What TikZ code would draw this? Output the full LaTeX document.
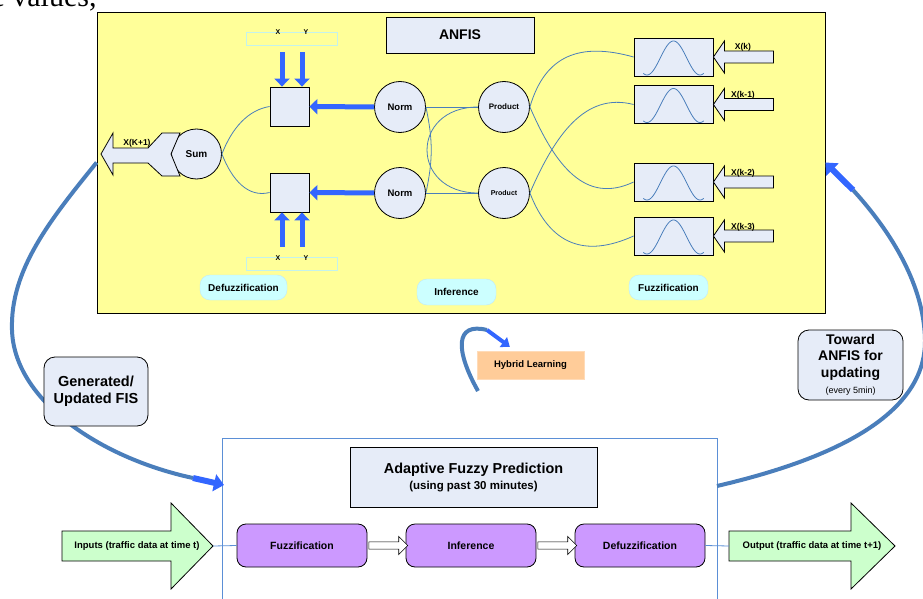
\documentclass[tikz,border=0pt]{standalone}
\usepackage{fontspec}
\setmainfont{Liberation Sans}
\newfontfamily\bodyserif{Liberation Serif}
\usetikzlibrary{arrows.meta,shapes.arrows}

\definecolor{anfisyellow}{HTML}{FFFF99}
\definecolor{cellfill}{HTML}{E6ECF8}
\definecolor{linkblue}{HTML}{4A7EBB}
\definecolor{arrowblue}{HTML}{3366FF}
\definecolor{bubblecyan}{HTML}{CCFFFF}
\definecolor{hybridorange}{HTML}{FFCC99}
\definecolor{stagepurple}{HTML}{CC99FF}
\definecolor{flowgreen}{HTML}{CCFFCC}
\definecolor{framecol}{HTML}{5B8FD6}
\definecolor{barcyan}{HTML}{C4F2EC}

\newcommand{\fsz}[2]{\fontsize{#1pt}{#2pt}\selectfont\bfseries}

\tikzset{
  cell/.style={draw, fill=cellfill, line width=0.8pt},
  neuron/.style={cell, circle, minimum size=51pt, inner sep=0pt},
  mfbox/.style={cell, minimum width=79pt, minimum height=38pt, inner sep=0pt},
  sqbox/.style={cell, minimum size=39pt, inner sep=0pt},
  link/.style={draw=linkblue, line width=0.8pt},
  thickarrow/.style={draw=arrowblue, line width=5pt, -{Triangle[width=15pt,length=8pt]}},
  loopline/.style={draw=linkblue, line width=4pt},
  looparrow/.style={draw=arrowblue, line width=6pt, -{Triangle[width=17pt,length=10pt]}},
  bubble/.style={rounded corners=10pt, fill=bubblecyan, draw=cyan!25, font=\fsz{10}{12}},
  xybar/.style={draw=barcyan, minimum width=91pt, minimum height=13pt, inner sep=0pt},
  stage/.style={draw, fill=stagepurple, rounded corners=9pt, line width=0.8pt,
    minimum width=130pt, minimum height=43pt, font=\fsz{10.5}{12}},
  note/.style={draw, fill=cellfill, rounded corners=11pt, align=center, inner sep=2pt, line width=0.8pt},
  flow/.style={draw, fill=flowgreen, line width=0.8pt},
  hollow/.style={single arrow, draw, fill=white, line width=0.6pt, minimum height=39pt,
    inner sep=3.3pt, single arrow head extend=5.5pt}
}

\begin{document}
\begin{tikzpicture}[x=1pt, y=-1pt]
  \useasboundingbox (0,0) rectangle (923,599);
  \node[anchor=base west, inner sep=0pt, font=\bodyserif\fontsize{30pt}{30pt}\selectfont] (cut) at (-17,7) {le values,};

  \node[draw, fill=anfisyellow, line width=0.8pt, minimum width=728pt, minimum height=301pt] (anfis) at (461,162.5) {};
  \node[cell, minimum width=148pt, minimum height=36pt, font=\fsz{14}{16}] (title) at (460,35) {ANFIS};

  \node[sqbox] (sq1) at (289.5,106.5) {};
  \node[sqbox] (sq2) at (289.5,192.5) {};
  \node[xybar] (xy1) at (291.5,38.5) {};
  \node[xybar] (xy2) at (291.5,263.5) {};
  \node[font=\fsz{7}{8}] (xa) at (278,32) {X};
  \node[font=\fsz{7}{8}] (ya) at (306,32) {Y};
  \node[font=\fsz{7}{8}] (xb) at (278,258) {X};
  \node[font=\fsz{7}{8}] (yb) at (306,258) {Y};
  \foreach \dx in {-7.5,12.5} {
    \draw[thickarrow] ([xshift=\dx pt]sq1.north |- xy1.south) ++(0,7) -- ([xshift=\dx pt]sq1.north);
    \draw[thickarrow] ([xshift=\dx pt]sq2.south |- xy2.north) ++(0,-10) -- ([xshift=\dx pt]sq2.south);
  }

  \node[neuron, font=\fsz{9.5}{11}] (n1) at (400,107) {Norm};
  \node[neuron, font=\fsz{9.5}{11}] (n2) at (400,193) {Norm};
  \node[neuron, font=\fsz{8}{9}] (p1) at (504,107) {Product};
  \node[neuron, font=\fsz{7}{8}] (p2) at (504,193) {Product};
  \node[neuron, minimum size=50pt, font=\fsz{10}{11}] (sum) at (196.5,154) {Sum};
  \draw[cell] (101,154) -- ++(12,-21) -- ++(0,15) -- ++(35,0) -- ++(14,-15) -- ++(18,0)
    -- ++(-9,21) -- ++(9,22) -- ++(-18,0) -- ++(-14,-13) -- ++(-35,0) -- ++(0,12) -- cycle;
  \node[anchor=base, font=\fsz{8.5}{9}] (kout) at (137,146) {X(K+1)};

  \foreach \y/\lab [count=\i] in {57/X(k), 104.5/X(k-1), 182/X(k-2), 236/X(k-3)} {
    \node[mfbox] (mf\i) at (673.5,\y) {};
    \draw[link] plot[domain=-205:205, samples=61, smooth] ({673.5+\x*26.5/180},{\y+18-17*(1+cos(\x))});
    \draw[cell] (mf\i.east) -- ++(11,-16) -- ++(0,10) -- ++(49,0) -- ++(0,12) -- ++(-49,0) -- ++(0,10) -- cycle;
    \node[anchor=base, font=\fsz{8.5}{9}] (in\i) at (743,\y-7) {\lab};
  }

  \draw[link] (sum.east) .. controls (232,128) and (248,110) .. (sq1.west);
  \draw[link] (sum.east) .. controls (232,180) and (248,198) .. (sq2.west);
  \draw[thickarrow] (n1) -- (sq1);
  \draw[thickarrow] (n2) -- (sq2);
  \begin{scope}[link]
    \draw (n1.east) -- (p1.west);
    \draw (n2.east) -- (p2.west);
    \draw (n1.east) .. controls (433,140) and (433,160) .. (n2.east);
    \draw (p1.west) .. controls (410,107) and (410,193) .. (p2.west);
    \draw (p1.east) .. controls (545,55) and (580,42) .. (mf1.west);
    \draw (p1.east) .. controls (555,165) and (585,205) .. (mf3.west);
    \draw (p2.east) .. controls (555,135) and (585,92) .. (mf2.west);
    \draw (p2.east) .. controls (550,245) and (585,258) .. (mf4.west);
  \end{scope}

  \node[bubble, minimum width=87pt, minimum height=25pt] (defz) at (243.5,287.5) {Defuzzification};
  \node[bubble, minimum width=79pt, minimum height=26pt] (infr) at (456.5,292) {Inference};
  \node[bubble, minimum width=79pt, minimum height=25pt] (fuzz) at (668.5,287.5) {Fuzzification};

  \node[fill=hybridorange, draw=hybridorange!70!white, minimum width=107pt, minimum height=28pt,
    font=\fsz{9.5}{11}] (hyb) at (530.5,365) {Hybrid Learning};
  \coordinate (hs) at (478,391);
  \coordinate (hm) at (487,330);
  \draw[loopline] (hs) .. controls (455,350) and (455,322) .. (hm);
  \draw[draw=arrowblue, line width=4pt, -{Triangle[width=12pt,length=8pt]}] (hm) -- ([xshift=33pt,yshift=4pt]hyb.north west);

  \node[draw=framecol, fill=white, line width=0.8pt, minimum width=495pt, minimum height=180pt] (adapt) at (469.5,528) {};
  \node[cell, minimum width=247pt, minimum height=60pt, align=center, font=\fsz{14.4}{16}] (pred) at (473.5,477)
    {Adaptive Fuzzy Prediction\\{\fsz{11.5}{13}(using past 30 minutes)}};
  \node[stage] (sfz) at (302,545.5) {Fuzzification};
  \node[stage] (sinf) at (471,545.5) {Inference};
  \node[stage] (sdfz) at (640,545.5) {Defuzzification};
  \path (sfz) -- (sinf) node[midway, hollow] (h1) {};
  \path (sinf) -- (sdfz) node[midway, hollow] (h2) {};

  \draw[flow] (62,531) -- (171,531) -- (171,503) -- (213,546) -- (171,589) -- (171,561) -- (62,561) -- cycle;
  \coordinate (intip) at (213,546);
  \node[font=\fsz{9.5}{11}] (intxt) at (137,546) {Inputs (traffic data at time t)};
  \draw[flow] (729,531) -- (851,531) -- (851,503) -- (895,546) -- (851,589) -- (851,561) -- (729,561) -- cycle;
  \coordinate (outtail) at (729,546);
  \node[font=\fsz{9.5}{11}] (outtxt) at (812,546) {Output (traffic data at time t+1)};
  \draw[framecol, line width=0.8pt] (intip) -- (sfz.west);
  \draw[framecol, line width=0.8pt] (sdfz.east) -- (outtail);

  \coordinate (lbend) at (193,478);
  \coordinate (adin) at (224,485);
  \draw[loopline] (anfis.west) .. controls (50,220) and (10,270) .. (12,330)
    .. controls (14,400) and (100,458) .. (lbend);
  \draw[looparrow] (lbend) -- (adin);
  \coordinate (adout) at (717,486);
  \coordinate (rbend) at (853,190);
  \draw[loopline] (adout) .. controls (820,462) and (926,420) .. (925,340)
    .. controls (924,280) and (885,225) .. (rbend);
  \draw[looparrow] (rbend) -- (anfis.east);

  \node[note, minimum width=104pt, minimum height=69pt, font=\fsz{14.5}{17}] (gen) at (96,391.5) {Generated/\\Updated FIS};
  \node[note, minimum width=105pt, minimum height=70pt, font=\fsz{14}{16.5}] (tow) at (850.5,365)
    {Toward\\ANFIS for\\updating\\{\fontsize{9pt}{10pt}\selectfont\mdseries(every 5min)}};
\end{tikzpicture}
\end{document}
